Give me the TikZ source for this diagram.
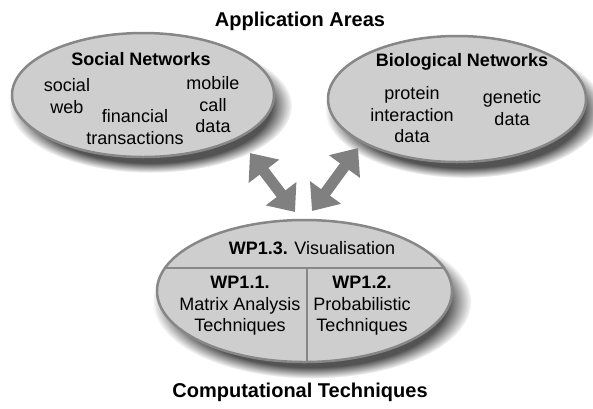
\documentclass[tikz,border=0pt]{standalone}
\usepackage{fontspec}
\setmainfont{Liberation Sans}
\usetikzlibrary{shapes.geometric,shadows,arrows.meta}
\definecolor{ellfill}{RGB}{206,206,206}
\definecolor{ellline}{RGB}{135,135,135}
\definecolor{arrcol}{RGB}{128,128,128}
\tikzset{
  area/.style={ellipse, draw=ellline, line width=2.5pt, fill=ellfill, inner sep=0pt, outer sep=0pt,
    circular drop shadow={shadow xshift=7pt, shadow yshift=-10pt, shadow scale=1.08, opacity=0.9, fill=black!75}},
  txt/.style={align=center, inner sep=0pt, font=\fontsize{18}{21.5}\selectfont},
  ttl/.style={align=center, inner sep=0pt, font=\fontsize{18}{21.5}\selectfont\bfseries},
  big/.style={align=center, inner sep=0pt, font=\fontsize{20}{24}\selectfont\bfseries},
  bigarrow/.style={draw=arrcol, line width=11pt,
    {Triangle[width=37pt,length=23pt]}-{Triangle[width=37pt,length=23pt]}},
  divider/.style={draw=ellline, line width=2.5pt}
}
\begin{document}
\begin{tikzpicture}[x=1pt,y=-1pt]
\useasboundingbox (0,0) rectangle (593,408);
% ellipses
\node[area, minimum width=262pt, minimum height=124pt] (soc) at (143,95) {};
\node[area, minimum width=258pt, minimum height=126pt] (bio) at (457,99) {};
\node[area, minimum width=295pt, minimum height=142pt] (comp) at (304.5,291) {};
% dividers in bottom ellipse
\begin{scope}
  \clip (comp.center) ellipse [x radius=147.5pt, y radius=71pt];
  \coordinate (hl) at (150,268);
  \coordinate (hr) at (460,268);
  \coordinate (vt) at (307,268);
  \coordinate (vb) at (307,370);
  \draw[divider] (hl) -- (hr);
  \draw[divider] (vt) -- (vb);
\end{scope}
% titles
\node[big] (apptitle) at (300,21) {Application Areas};
\node[big] (comptitle) at (300,392) {Computational Techniques};
% social networks
\node[ttl] (soct) at (141,59) {Social Networks};
\node[txt] (socweb) at (67,96) {social\\web};
\node[txt] (fin) at (135,127) {financial\\transactions};
\node[txt] (mob) at (213,105) {mobile\\call\\data};
% biological networks
\node[ttl] (biot) at (462,62) {Biological Networks};
\node[txt] (prot) at (412,115) {protein\\interaction\\data};
\node[txt] (gen) at (512,108) {genetic\\data};
% computational
\node[txt] (wp13) at (312,248) {\textbf{WP1.3.} Visualisation};
\node[txt] (wp11) at (240,306) {\textbf{WP1.1.}\\Matrix Analysis\\Techniques};
\node[txt] (wp12) at (362,306) {\textbf{WP1.2.}\\Probabilistic\\Techniques};
% arrows
\coordinate (a1s) at (250,153);
\coordinate (a1e) at (295,212);
\coordinate (a2s) at (312,211);
\coordinate (a2e) at (358,148);
\draw[bigarrow] (a1s) -- (a1e);
\draw[bigarrow] (a2s) -- (a2e);
\end{tikzpicture}
\end{document}
